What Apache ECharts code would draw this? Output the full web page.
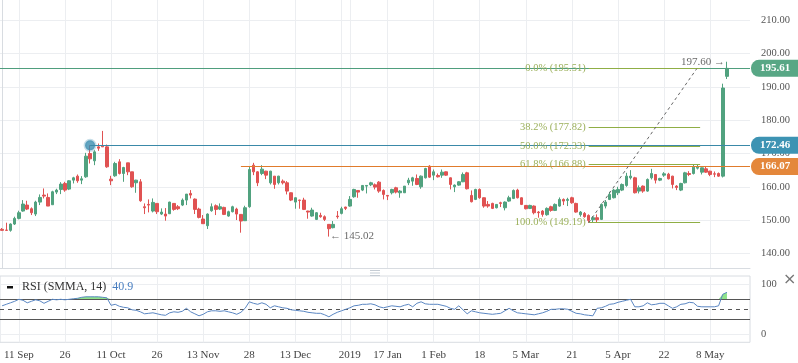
<!DOCTYPE html>
<html><head><meta charset="utf-8">
<script src="https://cdn.jsdelivr.net/npm/echarts@6/dist/echarts.min.js"></script>
<style>html,body{margin:0;padding:0;background:#fff}#c{width:798px;height:363px}</style>
</head><body><div id="c"></div>
<script>
// ---------- DATA ----------
const dates = [
'2018-09-05','2018-09-06','2018-09-07','2018-09-10','2018-09-11','2018-09-12','2018-09-13','2018-09-14','2018-09-17','2018-09-18','2018-09-19','2018-09-20','2018-09-21','2018-09-24','2018-09-25','2018-09-26','2018-09-27','2018-09-28',
'2018-10-01','2018-10-02','2018-10-03','2018-10-04','2018-10-05','2018-10-08','2018-10-09','2018-10-10','2018-10-11','2018-10-12','2018-10-15','2018-10-16','2018-10-17','2018-10-18','2018-10-19','2018-10-22','2018-10-23','2018-10-24','2018-10-25','2018-10-26','2018-10-29','2018-10-30','2018-10-31',
'2018-11-01','2018-11-02','2018-11-05','2018-11-06','2018-11-07','2018-11-08','2018-11-09','2018-11-12','2018-11-13','2018-11-14','2018-11-15','2018-11-16','2018-11-19','2018-11-20','2018-11-21','2018-11-23','2018-11-26','2018-11-27','2018-11-28','2018-11-29','2018-11-30',
'2018-12-03','2018-12-04','2018-12-05','2018-12-06','2018-12-07','2018-12-10','2018-12-11','2018-12-12','2018-12-13','2018-12-14','2018-12-17','2018-12-18','2018-12-19','2018-12-20','2018-12-21','2018-12-24','2018-12-26','2018-12-27','2018-12-28','2018-12-31',
'2019-01-02','2019-01-03','2019-01-04','2019-01-07','2019-01-08','2019-01-09','2019-01-10','2019-01-11','2019-01-14','2019-01-15','2019-01-16','2019-01-17','2019-01-18','2019-01-22','2019-01-23','2019-01-24','2019-01-25','2019-01-28','2019-01-29','2019-01-30','2019-01-31',
'2019-02-01','2019-02-04','2019-02-05','2019-02-06','2019-02-07','2019-02-08','2019-02-11','2019-02-12','2019-02-13','2019-02-14','2019-02-15','2019-02-19','2019-02-20','2019-02-21','2019-02-22','2019-02-25','2019-02-26','2019-02-27','2019-02-28',
'2019-03-01','2019-03-04','2019-03-05','2019-03-06','2019-03-07','2019-03-08','2019-03-11','2019-03-12','2019-03-13','2019-03-14','2019-03-15','2019-03-18','2019-03-19','2019-03-20','2019-03-21','2019-03-22','2019-03-25','2019-03-26','2019-03-27','2019-03-28','2019-03-29',
'2019-04-01','2019-04-02','2019-04-03','2019-04-04','2019-04-05','2019-04-08','2019-04-09','2019-04-10','2019-04-11','2019-04-12','2019-04-15','2019-04-16','2019-04-17','2019-04-18','2019-04-22','2019-04-23','2019-04-24','2019-04-25','2019-04-26','2019-04-29','2019-04-30',
'2019-05-01','2019-05-02','2019-05-03','2019-05-06','2019-05-07','2019-05-08','2019-05-09','2019-05-10','2019-05-13','2019-05-14',
'2019-05-15','2019-05-16','2019-05-17','2019-05-20','2019-05-21'
];

const openP = [
147.2,147.0,146.9,148.8,150.5,152.7,154.5,153.4,151.8,155.4,
157.5,156.8,154.6,158.4,159.2,161.0,159.3,162.0,163.2,162.0,
163.0,170.0,167.8,172.0,172.3,172.0,162.3,163.3,167.5,164.0,
167.2,164.5,161.2,161.5,154.0,154.7,152.7,155.0,151.8,151.8,
151.9,155.0,154.0,154.5,156.0,158.0,156.3,153.3,150.3,148.3,
152.8,154.3,153.3,153.8,151.2,152.5,153.3,151.7,149.8,154.0,
166.5,164.5,164.0,164.7,161.2,163.2,161.2,161.7,161.2,158.2,
155.4,156.0,156.0,152.7,151.2,150.2,151.4,151.0,148.7,147.7,
151.2,152.0,153.9,154.2,157.0,158.9,159.0,160.2,160.6,160.6,
161.4,158.9,157.4,158.2,159.7,158.2,158.2,161.2,161.7,162.5,
160.0,162.7,166.2,163.5,163.4,163.5,164.5,162.7,160.0,160.5,
161.5,164.2,157.4,156.2,159.2,156.7,154.7,155.0,153.7,155.2,
153.7,155.7,156.5,159.0,156.7,154.4,153.5,154.2,152.4,152.7,
151.6,154.0,152.9,154.2,156.2,155.9,156.7,155.0,151.6,152.0,
151.4,150.1,150.7,150.2,154.2,156.2,156.7,158.2,159.0,160.4,
162.7,162.7,158.7,160.2,158.7,162.7,163.7,162.0,163.5,163.8,
163.2,160.2,159.0,161.2,164.0,164.0,165.6,164.4,165.4,164.7,
163.9,164.0,163.2,193.2
];
const closeP = [
146.9,146.9,148.8,150.5,152.2,154.8,153.3,152.2,155.4,156.8,
157.2,154.2,158.5,159.0,160.8,159.0,161.8,162.7,161.8,162.4,
169.2,168.4,170.5,171.6,172.0,166.0,161.8,167.0,164.0,165.8,
164.5,160.0,162.0,155.8,153.7,154.5,155.3,152.5,152.4,151.2,
155.4,153.2,153.4,156.0,157.8,157.5,153.2,150.8,148.9,151.8,
154.0,153.2,154.0,151.7,152.5,154.0,151.8,149.7,153.7,165.2,
164.5,161.2,165.3,163.5,164.7,160.7,163.2,161.2,158.7,156.0,
156.7,155.9,153.2,152.4,153.0,152.2,151.0,150.2,147.4,148.7,
151.0,153.4,153.5,156.2,159.2,158.4,160.4,160.4,161.2,159.9,
158.7,157.7,157.2,159.2,158.4,158.7,160.2,162.0,162.7,160.7,
163.2,165.5,162.9,164.5,163.0,164.4,163.5,160.7,160.5,161.5,
163.7,159.4,155.5,159.2,156.7,154.2,154.2,153.5,154.7,155.0,
155.4,156.7,158.9,156.7,154.7,153.4,154.4,152.2,152.2,151.7,
153.5,152.9,154.7,156.2,155.7,156.2,155.2,152.4,152.4,151.0,
149.9,150.7,150.1,154.7,155.4,157.7,159.0,159.2,160.7,163.2,
163.2,158.2,159.7,158.7,162.2,164.0,162.0,162.5,163.9,162.4,
160.7,159.8,161.0,164.2,163.7,165.9,165.9,165.7,164.4,163.7,
163.8,163.2,189.7,195.61
];
const lowP = [
146.8,146.8,146.5,148.5,150.2,152.5,153.0,151.5,151.2,154.5,
156.5,154.2,154.6,157.8,157.8,158.5,159.0,161.0,161.2,160.8,
162.7,167.0,166.5,170.8,172.0,165.7,160.5,163.0,163.7,161.5,
163.5,159.7,158.2,155.5,151.8,152.3,152.3,151.8,151.5,149.8,
151.8,152.8,153.0,154.2,154.5,156.5,151.8,150.5,148.9,147.3,
152.5,151.5,153.0,151.5,151.0,152.3,150.0,146.2,149.7,153.7,
163.5,160.2,163.5,162.3,160.7,159.4,160.7,160.7,157.7,155.7,
153.4,153.4,153.0,150.4,151.0,150.0,150.7,149.7,145.02,147.5,
150.4,151.7,153.0,154.0,156.7,156.7,158.7,158.0,160.2,159.2,
158.2,156.2,156.0,157.7,158.0,156.7,158.2,160.5,160.3,160.5,
159.4,162.5,162.7,162.0,162.8,162.7,163.3,159.2,158.4,160.3,
161.4,159.2,155.3,156.0,156.4,153.7,153.7,153.3,153.5,153.9,
152.9,155.5,156.3,156.5,154.5,153.2,153.3,151.7,150.7,151.0,
151.3,152.5,152.7,154.0,154.5,154.2,154.9,152.2,151.0,150.7,
149.19,149.4,149.2,150.0,153.5,156.0,156.5,157.5,158.7,160.0,
162.2,158.0,158.0,158.2,158.5,162.2,161.0,161.7,163.0,162.2,
159.5,159.0,158.7,161.0,163.2,163.7,165.2,163.7,164.2,163.2,
162.9,163.0,162.8,192.4
];
const highP = [
147.6,149.2,149.0,151.0,152.8,156.0,155.8,153.8,155.8,157.7,
159.5,158.0,158.8,159.4,161.4,161.5,162.0,163.0,163.7,163.2,
170.2,172.5,171.0,173.0,176.8,172.7,163.3,167.5,168.3,166.0,
167.2,164.5,162.1,162.3,155.0,156.2,156.5,155.0,153.5,153.6,
155.5,155.1,154.5,156.5,157.8,159.0,156.5,153.7,151.5,152.0,
155.0,154.7,155.0,154.0,152.8,154.3,153.7,151.8,154.3,166.0,
167.2,164.7,166.5,164.8,164.8,163.2,163.3,162.2,161.7,158.3,
156.8,156.1,156.7,152.8,153.7,152.4,152.2,151.4,148.7,149.7,
152.7,154.0,154.0,157.2,159.4,159.0,160.5,160.5,161.5,161.0,
161.7,159.2,157.5,159.4,160.0,159.0,160.2,162.7,163.0,163.7,
163.4,165.7,166.5,165.2,164.0,165.2,164.6,162.8,160.7,161.7,
164.3,164.5,158.9,159.4,159.5,156.8,155.7,155.2,154.8,155.5,
155.6,157.3,159.2,159.4,156.8,154.5,154.6,154.4,152.7,153.0,
153.8,154.3,155.0,156.8,156.5,156.7,157.0,155.2,152.7,152.4,
151.7,151.2,151.7,155.0,156.0,158.5,159.4,160.0,161.0,164.2,
165.0,163.0,160.4,160.4,162.5,165.4,163.8,162.7,164.4,164.2,
163.3,160.5,161.2,164.5,164.7,166.7,166.8,165.8,166.2,164.8,
164.6,164.3,191.0,197.60
];
const rsiValues = [
57,60,63,66,70,68,63,66,69,67,
62,66,70,69,70,69,70,71,72,74,
75,75,75,75,74,73,58,60,56,54,
53,49,48,45,41,42,43,41,39,38,
43,45,44,46,52,45,41,37,40,45,
47,47,46,47,45,43,40,44,52,65,
62,60,63,60,53,57,55,53,52,49,
48,47,46,44,43,42,42,39,35,40,
44,47,50,53,57,58,60,60,61,59,
55,53,55,57,56,55,58,60,55,62,
65,61,60,60,60,58,56,52,50,57,
49,41,47,45,43,42,41,40,41,42,
47,52,47,43,42,41,40,39,41,43,
46,50,50,51,51,50,46,42,41,39,
38,37,52,53,56,60,61,64,66,68,
70,55,55,57,63,59,60,62,62,57,
52,55,60,61,64,63,56,55,55,55,
55,57,80,84
];
// x-axis tick labels (category -> text) and an extra unlabeled grid line
const xTicks = [
['2018-09-11','11 Sep'],['2018-09-26','26'],['2018-10-11','11 Oct'],['2018-10-26','26'],
['2018-11-12','13 Nov'],['2018-11-28','28'],['2018-12-13','13 Dec'],['2019-01-03','2019'],
['2019-01-16','17 Jan'],['2019-02-01','1 Feb'],['2019-02-19','18'],['2019-03-06','5 Mar'],
['2019-03-21','21'],['2019-04-05','5 Apr'],['2019-04-23','22'],['2019-05-08','8 May']
];
const extraGridDates = ['2018-12-31'];
const priceTicks = [140,150,160,170,180,190,200,210];
const rsiTicks = [0,100];
const rsiLevels = [70,50,30];
// horizontal price lines
const lastPrice = 195.61, bluePrice = 172.46, orangePrice = 166.07;
const blueStartIdx = 21, orangeStartIdx = 57;
// fibonacci retracement
const fibLevels = [['0.0%',195.51],['38.2%',177.82],['50.0%',172.33],['61.8%',166.88],['100.0%',149.19]];
const fibStartIdx = 140, fibEndIdx = 166.6;
const trendFrom = [140,149.19], trendTo = [165.8,195.51];
const highNote = [173,197.60], lowNote = [78,145.02];
const rsiLegendValue = '40.9';

// ---------- CHART ----------
const FONT = '"Liberation Serif","DejaVu Serif",serif';
const UP = '#51a27f', DOWN = '#e05252';
const GRIDC = '#eceef1', BORDERC = '#d8dce1';
const N = dates.length;
const ohlc = openP.map((o,i)=>[o, closeP[i], lowP[i], highP[i]]);
const labelOf = Object.fromEntries(xTicks);
const gridSet = new Set(xTicks.map(t=>t[0]).concat(extraGridDates));
const GL = -1.6, GR = 48;

function priceLine(startIdx, price, lineColor, boxColor){
  return [
    {coord:[startIdx, price], lineStyle:{color:lineColor,width:1,type:'solid'},
     label:{show:true, position:'end', distance:1, formatter:price.toFixed(2), color:'#fff',
       backgroundColor:boxColor, padding:[3,8,2,9], borderRadius:[8,0,0,8],
       fontSize:11, fontWeight:'bold', fontFamily:FONT, lineHeight:12}},
    {coord:[N-0.5, price]}
  ];
}
const fibLines = fibLevels.map(([p,v])=>[
  {coord:[fibStartIdx, v], lineStyle:{color:'#8fae45',width:1,type:'solid'},
   label:{show:true, position:'start', distance:3, formatter:p+' ('+v.toFixed(2)+')',
     color:'#9bb05a', fontSize:10.5, fontFamily:FONT}},
  {coord:[fibEndIdx, v]}
]);

const chart = echarts.init(document.getElementById('c'));
chart.setOption({
  animation:false,
  backgroundColor:'#fff',
  title:{text:'RSI (SMMA, 14)  {v|'+rsiLegendValue+'}', left:22, top:281, padding:0,
    textStyle:{fontFamily:FONT, fontSize:12, fontWeight:'normal', color:'#333',
      rich:{v:{fontFamily:FONT, fontSize:12, color:'#4a7fc1'}}}},
  grid:[
    {left:GL, right:GR, top:0, height:268},
    {left:GL, right:GR, top:276, height:66.3, show:true, borderColor:BORDERC, borderWidth:1}
  ],
  xAxis:[
    {type:'category', gridIndex:0, data:dates, boundaryGap:true,
     axisLine:{show:true, onZero:false, lineStyle:{color:BORDERC}}, axisTick:{show:false},
     axisLabel:{show:false},
     splitLine:{show:true, interval:(i,v)=>gridSet.has(v), alignWithLabel:true, lineStyle:{color:GRIDC}}},
    {type:'category', gridIndex:1, data:dates, boundaryGap:true,
     axisLine:{show:false, onZero:false}, axisTick:{show:false},
     axisLabel:{interval:(i,v)=>(v in labelOf), formatter:v=>labelOf[v]||'', color:'#444',
       fontFamily:FONT, fontSize:11, margin:7},
     splitLine:{show:true, interval:(i,v)=>gridSet.has(v), alignWithLabel:true, lineStyle:{color:GRIDC}}},
    {type:'value', gridIndex:0, min:-0.5, max:N-0.5, show:false}
  ],
  yAxis:[
    {type:'value', gridIndex:0, position:'right', min:135.58, max:216.16,
     axisLine:{show:true, lineStyle:{color:BORDERC}}, axisTick:{show:false, customValues:priceTicks},
     axisLabel:{customValues:priceTicks, formatter:v=>v.toFixed(2), color:'#555', fontFamily:FONT, fontSize:10.5, margin:11},
     splitLine:{show:true, lineStyle:{color:GRIDC}}},
    {type:'value', gridIndex:1, position:'right', min:-16, max:116.6,
     axisLine:{show:false}, axisTick:{show:false, customValues:rsiTicks},
     axisLabel:{customValues:rsiTicks, formatter:v=>String(v), color:'#555', fontFamily:FONT, fontSize:10.5, margin:11},
     splitLine:{show:true, lineStyle:{color:GRIDC}}}
  ],
  series:[
    {type:'candlestick', xAxisIndex:0, yAxisIndex:0, data:ohlc, barWidth:3,
     itemStyle:{color:UP, color0:DOWN, borderColor:UP, borderColor0:DOWN, borderWidth:1}},
    {type:'line', xAxisIndex:2, yAxisIndex:0, data:[], silent:true,
     markLine:{symbol:['none','none'], silent:true, animation:false,
       data:[
         priceLine(-0.5, lastPrice, '#4f9e7d', '#58a785'),
         priceLine(blueStartIdx, bluePrice, '#3a89a8', '#3d93b3'),
         priceLine(orangeStartIdx, orangePrice, '#e07b2c', '#e4873b'),
         ...fibLines,
         [{coord:trendFrom, lineStyle:{color:'#666', width:1, type:[3,3]}, label:{show:false}}, {coord:trendTo}]
       ]}},
    {type:'scatter', xAxisIndex:2, yAxisIndex:0, data:[[blueStartIdx, bluePrice]], symbolSize:10, silent:true,
     itemStyle:{color:'#3b8db0', borderColor:'rgba(59,141,176,0.35)', borderWidth:3}},
    {type:'scatter', xAxisIndex:2, yAxisIndex:0, symbolSize:0.1, silent:true,
     itemStyle:{color:'rgba(0,0,0,0)'},
     data:[
       {value:highNote, label:{show:true, position:'left', distance:2, formatter:highNote[1].toFixed(2)+' \u2192', color:'#444', fontFamily:FONT, fontSize:11}},
       {value:lowNote, label:{show:true, position:'right', distance:1, formatter:'\u2190 '+lowNote[1].toFixed(2), color:'#444', fontFamily:FONT, fontSize:11}}
     ]},
    {type:'line', xAxisIndex:1, yAxisIndex:1, data:rsiValues.map(()=>70), stack:'ob', symbol:'none',
     lineStyle:{width:0}, silent:true},
    {type:'line', xAxisIndex:1, yAxisIndex:1, data:rsiValues.map(v=>Math.max(v-70,0)), stack:'ob', symbol:'none',
     lineStyle:{width:0}, areaStyle:{color:'#8fe38b', opacity:1}, silent:true},
    {type:'line', xAxisIndex:1, yAxisIndex:1, data:rsiValues, symbol:'none', silent:true, z:5,
     lineStyle:{color:'#5b87c3', width:1},
     markLine:{symbol:['none','none'], silent:true, label:{show:false},
       data:rsiLevels.map(l=>({yAxis:l, lineStyle:{color:'#555', width:1, type: l===50?[4,4]:'solid'}}))}}
  ],
  graphic:[
    {type:'rect', left:7, top:286, shape:{width:6, height:2.5}, style:{fill:'#111'}},
    {type:'group', left:370, top:270, children:[
      {type:'rect', shape:{x:0,y:0,width:10,height:1}, style:{fill:'#c5ccd4'}},
      {type:'rect', shape:{x:0,y:2.5,width:10,height:1}, style:{fill:'#c5ccd4'}},
      {type:'rect', shape:{x:0,y:5,width:10,height:1}, style:{fill:'#c5ccd4'}}
    ]},
    {type:'text', left:783, top:272, style:{text:'\u00d7', fill:'#777', font:'16px "DejaVu Sans",sans-serif'}}
  ]
});
</script>
</body></html>
